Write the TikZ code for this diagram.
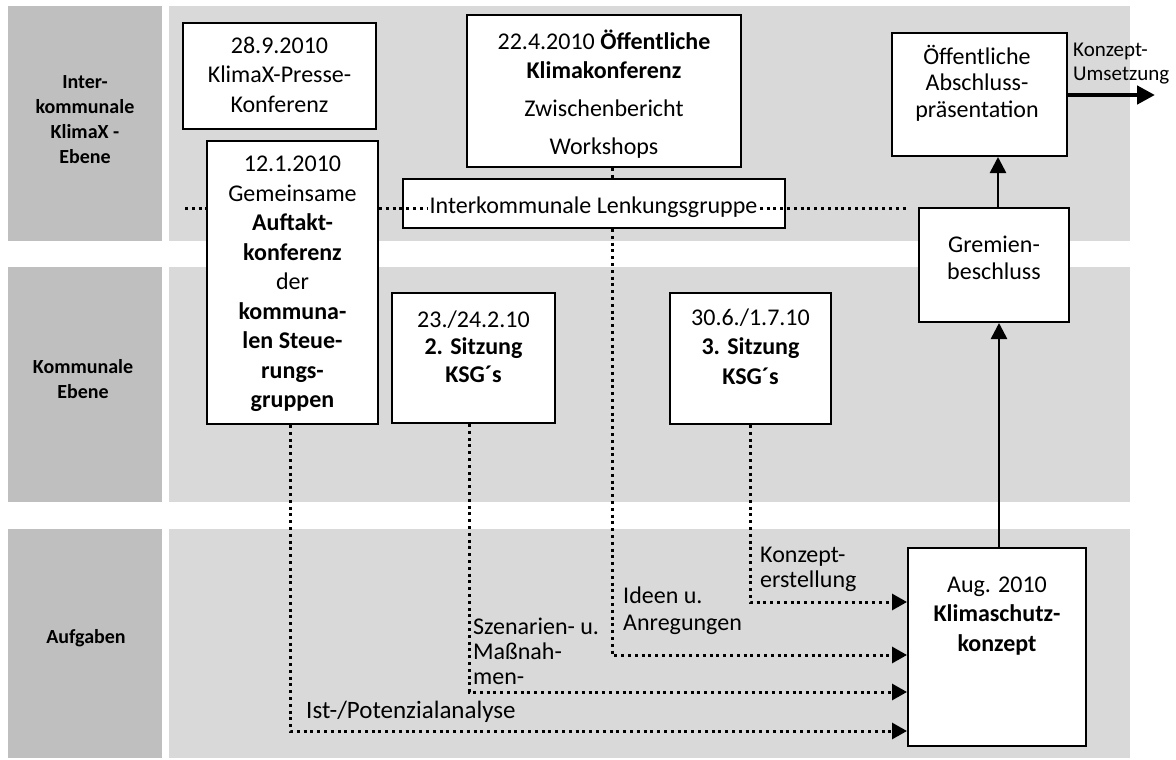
\documentclass[tikz,border=0pt]{standalone}
\usepackage{fontspec}
\setmainfont{Carlito}
\usetikzlibrary{arrows.meta}
\definecolor{bandDark}{HTML}{BFBFBF}
\definecolor{bandLight}{HTML}{D9D9D9}
\begin{document}
\begin{tikzpicture}[x=1pt,y=-1pt,
  box/.style={draw=black, line width=2pt, fill=white, inner sep=0pt},
  txt/.style={font=\fontsize{24}{29.5}\selectfont, align=center, inner sep=0pt},
  lbl/.style={font=\fontsize{20}{25}\selectfont\bfseries, align=center, inner sep=0pt},
  ann/.style={font=\fontsize{24}{25}\selectfont, align=left, inner sep=0pt, anchor=west},
  dotline/.style={line width=3pt, dash pattern=on 3pt off 3.8pt},
  dotarrow/.style={dotline, -{Triangle[length=15pt,width=16pt]}},
  solidarrow/.style={line width=2.6pt, -{Triangle[length=16pt,width=16pt]}}
]
\useasboundingbox (0,0) rectangle (1176,760);
% bands
\fill[bandDark]  (8,6) rectangle (162,241);
\fill[bandLight] (169,6) rectangle (1130,241);
\fill[bandDark]  (8,267) rectangle (162,502);
\fill[bandLight] (169,267) rectangle (1130,502);
\fill[bandDark]  (8,529) rectangle (162,758);
\fill[bandLight] (169,529) rectangle (1130,758);
% band labels
\node[lbl] (l1) at (85,121) {\strut Inter-\\kommunale\\KlimaX -\\Ebene\strut};
\node[lbl] (l2) at (83,381) {\strut Kommunale\\Ebene\strut};
\node[lbl] (l3) at (86,638) {Aufgaben};
% boxes
\node[box, minimum width=193pt, minimum height=106pt] (pk) at (279.5,76) {};
\node[txt] (pkt) at (279.5,77) {\strut 28.9.2010\\KlimaX-Presse-\\Konferenz\strut};
\node[box, minimum width=171pt, minimum height=283pt] (auf) at (292.5,282.5) {};
\node[txt] (auft) at (292.5,284) {\strut 12.1.2010\\Gemeinsame\\\textbf{Auftakt-}\\\textbf{konferenz}\\der\\\textbf{kommuna-}\\\textbf{len Steue-}\\\textbf{rungs-}\\\textbf{gruppen}\strut};
\node[box, minimum width=274pt, minimum height=152pt] (oe) at (604,91) {};
\node[txt] (oet) at (604,96) {\strut 22.4.2010 \textbf{Öffentliche}\\\textbf{Klimakonferenz}\\[8.5pt]Zwischenbericht\\[8pt]Workshops\strut};
\node[box, minimum width=382pt, minimum height=49pt] (lg) at (594,203.5) {};
\node[box, minimum width=175pt, minimum height=123pt] (ab) at (979.5,94.5) {};
\node[txt, font=\fontsize{24}{26.5}\selectfont] (abt) at (977,85) {\strut Öffentliche\\Abschluss-\\präsentation\strut};
\node[box, minimum width=150pt, minimum height=114pt] (gr) at (994,265) {};
\node[txt, font=\fontsize{24}{27}\selectfont] (grt) at (994,261) {\strut Gremien-\\beschluss\strut};
\node[box, minimum width=163pt, minimum height=130pt] (s2) at (473.5,358) {};
\node[txt, font=\fontsize{24}{27.5}\selectfont] (s2t) at (473.5,349) {\strut 23./24.2.10\\\textbf{2. Sitzung}\\\textbf{KSG´s}\strut};
\node[box, minimum width=161pt, minimum height=131pt] (s3) at (750.5,358.5) {};
\node[txt] (s3t) at (750.5,349) {\strut 30.6./1.7.10\\\textbf{3. Sitzung}\\\textbf{KSG´s}\strut};
\node[box, minimum width=178pt, minimum height=198pt] (kl) at (997,647) {};
\node[txt] (klt) at (997,616) {\strut Aug. 2010\\\textbf{Klimaschutz-}\\\textbf{konzept}\strut};
% horizontal dotted line of the steering group
\coordinate (hl) at (185,208);
\coordinate (hr) at (907,208);
\draw[dotline] (hl) -- (auf.west |- hl);
\draw[dotline] (auf.east |- hl) -- (hr);
\node[txt, fill=white, inner sep=1.5pt] (lgt) at (593.5,207) {Interkommunale Lenkungsgruppe};
% dotted connectors
\draw[dotarrow] (auf.south -| 290,0) |- (kl.west |- 0,731);
\draw[dotarrow] (s2.south -| 469,0) |- (kl.west |- 0,692);
\draw[dotline] (oe.south -| 612,0) -- (lg.north -| 612,0);
\draw[dotarrow] (lg.south -| 612,0) |- (kl.west |- 0,655);
\draw[dotarrow] (s3.south -| 750,0) |- (kl.west |- 0,602);
% solid arrows
\draw[solidarrow] (kl.north -| 999,0) -- (gr.south -| 999,0);
\draw[solidarrow] (gr.north -| 998,0) -- (ab.south -| 998,0);
\coordinate (um) at (1155,95);
\draw[line width=4.5pt, -{Triangle[length=18pt,width=18pt]}] (ab.east |- um) -- (um);
% annotations
\node[ann] (a1) at (473,654) {\strut Szenarien- u.\\Maßnah-\\men-\strut};
\node[ann, font=\fontsize{24}{27}\selectfont] (a2) at (623,612) {\strut Ideen u.\\Anregungen\strut};
\node[ann] (a3) at (760,570) {\strut Konzept-\\erstellung\strut};
\node[ann, font=\fontsize{25}{27}\selectfont] (a4) at (306,712) {Ist-/Potenzialanalyse};
\node[ann, font=\fontsize{21}{24}\selectfont] (a5) at (1073,64) {\strut Konzept-\\Umsetzung\strut};
\end{tikzpicture}
\end{document}
